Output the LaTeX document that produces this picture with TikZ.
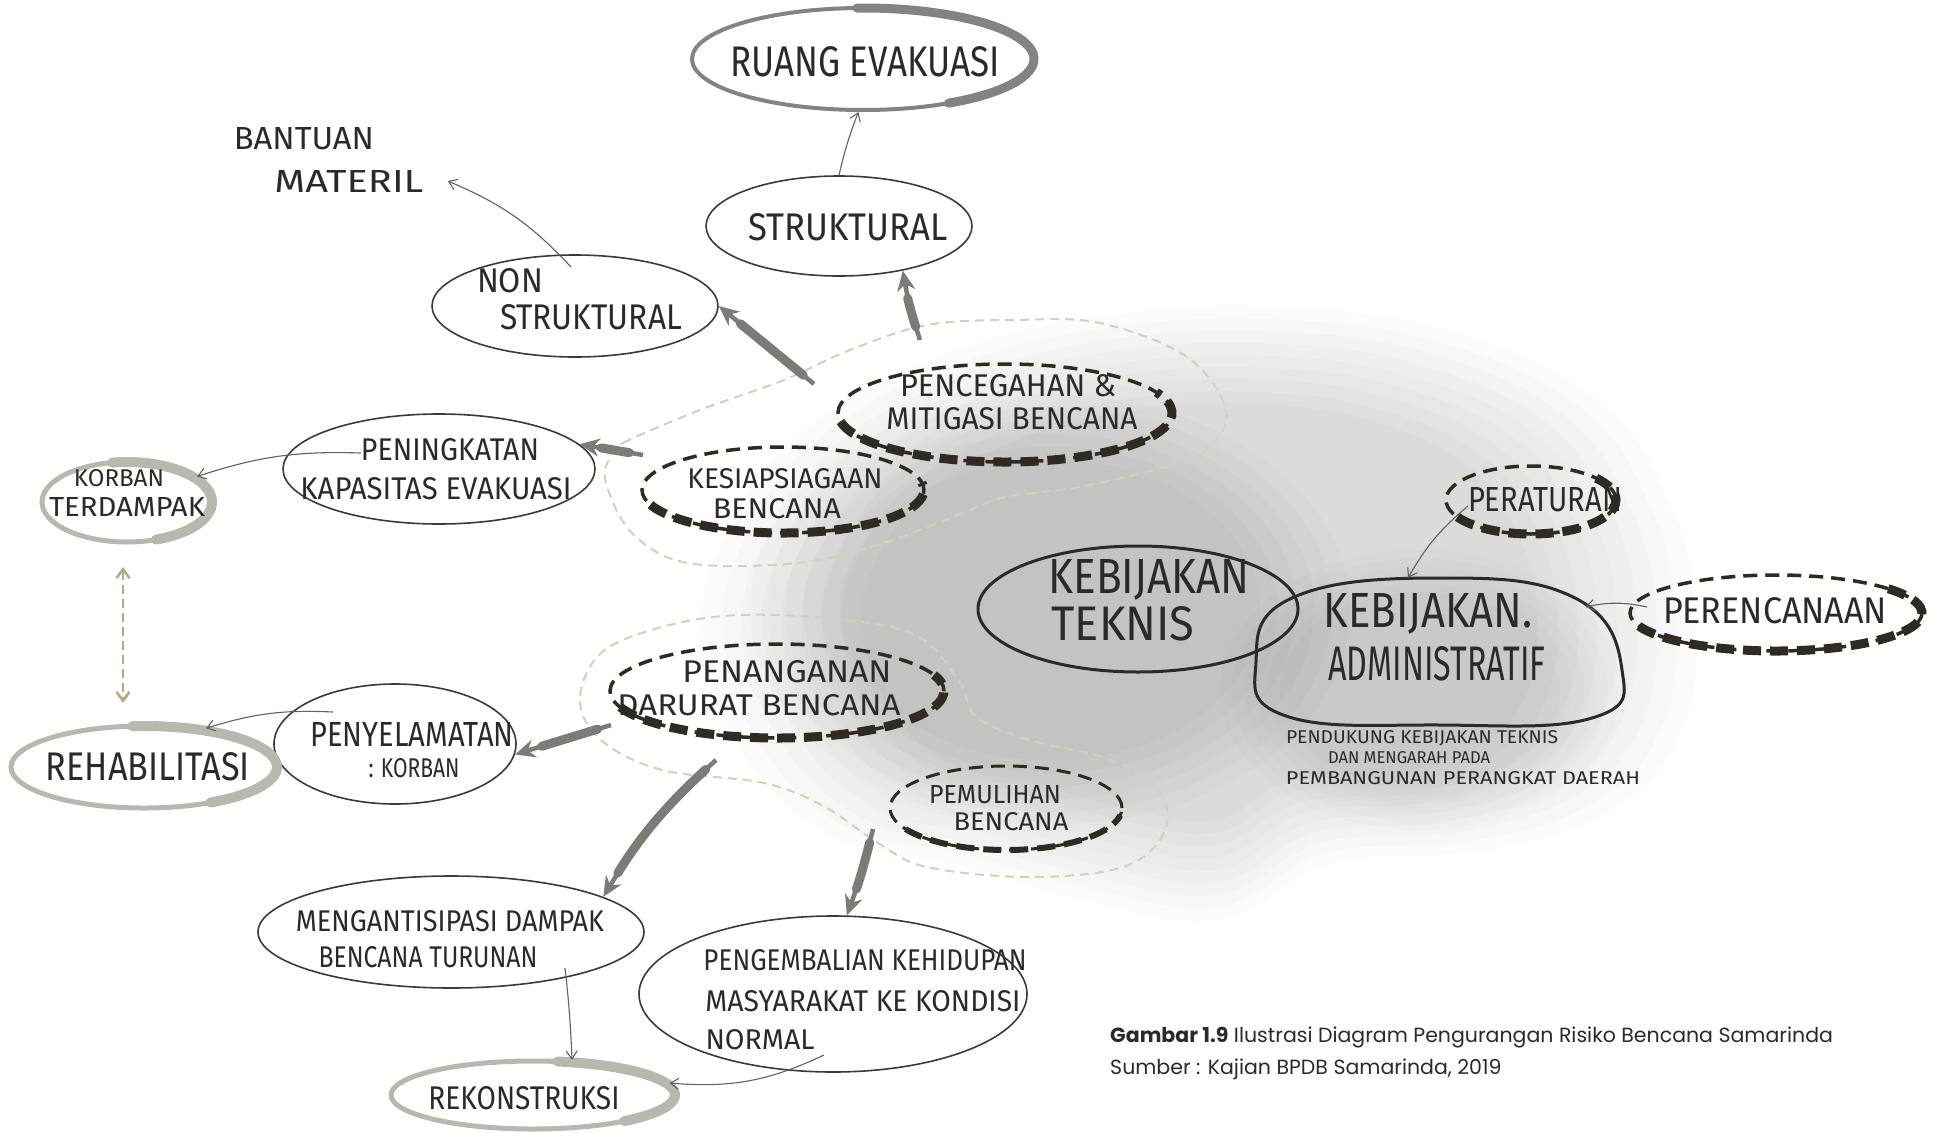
\documentclass[tikz,border=0pt]{standalone}
\usepackage{fontspec}
\usepackage{graphicx}
\usetikzlibrary{shapes.geometric,arrows.meta}
\newfontfamily\hand{Fira Sans}
\newfontfamily\capfont{Poppins}
\definecolor{ink}{HTML}{2A2A28}
\definecolor{thinline}{HTML}{3A3A38}
\definecolor{dashink}{HTML}{2E2B22}
\definecolor{ruangray}{HTML}{848381}
\definecolor{ltgray}{HTML}{B9B8AE}
\definecolor{arrgray}{HTML}{7B7B77}
\definecolor{olive}{HTML}{B3AB86}
\definecolor{blobline}{HTML}{D3D0C0}
\newcommand{\hw}[3]{\resizebox{#1pt}{#2pt}{\hand #3}}
\tikzset{
  hwt/.style={inner sep=0pt, text=ink},
  thinell/.style={ellipse, draw=thinline, line width=1.6pt, inner sep=0pt},
  kebell/.style={ellipse, draw=ink, line width=3pt, inner sep=0pt},
  dashell/.style={ellipse, draw=dashink, line width=3.5pt, dash pattern=on 14pt off 8pt, inner sep=0pt},
  grayell/.style={ellipse, draw=ltgray, line width=5pt, inner sep=0pt},
  dasharc/.style={draw=dashink, line width=9pt, dash pattern=on 18pt off 9pt},
  grayarc/.style={draw=ltgray, line width=10pt, line cap=round},
  thickarr/.style={draw=arrgray, line width=4.5pt, -{Stealth[length=20pt,width=18pt]}},
  taper/.style={draw=arrgray, line width=9pt, line cap=round, shorten <=14pt, shorten >=28pt},
  thinarr/.style={draw=thinline!80, line width=1.1pt, -{Straight Barb[length=8pt,width=11pt]}},
  blobdash/.style={draw=blobline, line width=2pt, dash pattern=on 9pt off 6pt},
}
\begin{document}
\begin{tikzpicture}[x=1pt,y=-1pt]
\useasboundingbox (0,0) rectangle (1934,1132);
\fill[white] (0,0) rectangle (1934,1132);

% ---------- grey wash background ----------
\foreach \s in {1,0.96,0.92,0.88,0.84,0.80,0.76,0.72,0.68}{
  \fill[black, opacity=0.014, shift={(1200,610)}, scale=\s]
    plot[smooth cycle, tension=0.7] coordinates {
      (-497,31) (-472,-80) (-398,-178) (-263,-252) (-90,-295) (95,-302)
      (255,-277) (391,-215) (465,-117) (496,7) (477,130) (403,204)
      (280,241) (132,253) (21,309) (-115,290) (-250,253) (-361,229) (-448,155)};
}
\foreach \s in {1,0.94,0.88,0.82,0.76,0.70}{
  \fill[black, opacity=0.014, shift={(1050,610)}, scale=\s] (0,0) ellipse [x radius=300, y radius=215];
  \fill[black, opacity=0.013, shift={(1420,690)}, scale=\s] (0,0) ellipse [x radius=200, y radius=140];
}

% ---------- dashed group outlines ----------
\draw[blobdash] plot[smooth cycle, tension=0.6] coordinates {
  (610,457) (623,443) (700,410) (784,380) (850,350) (927,325) (1014,320) (1100,323)
  (1187,357) (1226,410) (1209,447) (1165,467) (1079,487) (1005,497) (970,510)
  (884,543) (797,563) (688,563) (632,533) (606,483)};
\draw[blobdash] plot[smooth cycle, tension=0.6] coordinates {
  (740,615) (846,620) (919,637) (960,683) (976,717) (1029,740) (1111,760)
  (1160,793) (1164,833) (1123,867) (1029,877) (927,867) (878,843) (825,807)
  (764,783) (662,770) (601,740) (580,700) (601,653) (662,627)};

% ---------- ellipses ----------
\node[ellipse, draw=ruangray, line width=4pt, minimum width=342pt, minimum height=102pt, inner sep=0pt] (ruang) at (863,59) {};
\draw[draw=ruangray, line width=9pt, line cap=round] ([shift={(-92:171 and 51)}]863,59) arc[start angle=-92, end angle=60, x radius=171, y radius=51];
\node[thinell, minimum width=266pt, minimum height=100pt] (struk) at (839,226) {};
\node[thinell, minimum width=286pt, minimum height=102pt] (non) at (575,306) {};
\node[thinell, minimum width=312pt, minimum height=110pt] (ping) at (439,469) {};
\node[thinell, minimum width=242pt, minimum height=120pt] (nyel) at (395,744) {};
\node[thinell, minimum width=386pt, minimum height=112pt] (anti) at (451,932) {};
\node[thinell, minimum width=388pt, minimum height=156pt] (kemb) at (833,994) {};

\node[grayell, minimum width=170pt, minimum height=80pt] (korban) at (127,502) {};
\draw[grayarc] ([shift={(-100:85 and 40)}]127,502) arc[start angle=-100, end angle=70, x radius=85, y radius=40];
\node[grayell, minimum width=266pt, minimum height=82pt] (rehab) at (144,767) {};
\draw[grayarc] ([shift={(-95:133 and 41)}]144,767) arc[start angle=-95, end angle=60, x radius=133, y radius=41];
\node[grayell, minimum width=284pt, minimum height=68pt] (rekon) at (533,1095) {};
\draw[grayarc] ([shift={(-80:142 and 34)}]533,1095) arc[start angle=-80, end angle=50, x radius=142, y radius=34];

\node[dashell, minimum width=334pt, minimum height=98pt] (pen) at (1005,413) {};
\draw[dasharc] ([shift={(170:167 and 49)}]1005,413) arc[start angle=170, end angle=-25, x radius=167, y radius=49];
\node[dashell, minimum width=282pt, minimum height=86pt] (kes) at (783,490) {};
\draw[dasharc] ([shift={(160:141 and 43)}]783,490) arc[start angle=160, end angle=-10, x radius=141, y radius=43];
\node[dashell, minimum width=334pt, minimum height=94pt] (nang) at (777,691) {};
\draw[dasharc] ([shift={(160:167 and 47)}]777,691) arc[start angle=160, end angle=-20, x radius=167, y radius=47];
\node[dashell, line width=3pt, minimum width=232pt, minimum height=84pt] (mul) at (1006,808) {};
\draw[dasharc, line width=6pt] ([shift={(150:116 and 42)}]1006,808) arc[start angle=150, end angle=10, x radius=116, y radius=42];
\node[dashell, minimum width=170pt, minimum height=68pt] (per) at (1531,500) {};
\draw[dasharc] ([shift={(150:85 and 34)}]1531,500) arc[start angle=150, end angle=-40, x radius=85, y radius=34];
\node[dashell, minimum width=292pt, minimum height=76pt] (pere) at (1776,613) {};
\draw[dasharc] ([shift={(160:146 and 38)}]1776,613) arc[start angle=160, end angle=-40, x radius=146, y radius=38];

\node[kebell, minimum width=320pt, minimum height=126pt] (tek) at (1138,609) {};
\node[ellipse, minimum width=368pt, minimum height=150pt, inner sep=0pt] (adm) at (1438,652) {};
\draw[ink, line width=3pt] plot[smooth cycle, tension=0.75] coordinates {
  (1256,662) (1292,598) (1440,578) (1575,598) (1622,670) (1592,718) (1440,725) (1286,716)};

% ---------- texts ----------
\node[hwt] (truang) at (865,62) {\hw{269}{30}{RUANG EVAKUASI}};
\node[hwt] (tstruk) at (848,227) {\hw{199}{27}{STRUKTURAL}};
\node[hwt] (bantuan) at (304,139) {\hw{140}{22}{BANTUAN}};
\node[hwt] (materil) at (349,181) {\hw{149}{22}{MATERIL}};
\node[hwt] (tnon) at (510,281) {\hw{66}{24}{NON}};
\node[hwt] (tnon2) at (591,317) {\hw{182}{25}{STRUKTURAL}};
\node[hwt] (tpen1) at (1008,386) {\hw{216}{22}{PENCEGAHAN \&}};
\node[hwt] (tpen2) at (1012,419) {\hw{251}{22}{MITIGASI BENCANA}};
\node[hwt] (tkes1) at (785,479) {\hw{195}{20}{KESIAPSIAGAAN}};
\node[hwt] (tkes2) at (777,509) {\hw{128}{20}{BENCANA}};
\node[hwt] (tping1) at (450,450) {\hw{178}{22}{PENINGKATAN}};
\node[hwt] (tping2) at (436,489) {\hw{271}{22}{KAPASITAS EVAKUASI}};
\node[hwt] (tkor1) at (119,478) {\hw{90}{17}{KORBAN}};
\node[hwt] (tkor2) at (127,507) {\hw{156}{19}{TERDAMPAK}};
\node[hwt] (trehab) at (148,767) {\hw{204}{28}{REHABILITASI}};
\node[hwt] (tnyel1) at (412,734) {\hw{203}{24}{PENYELAMATAN}};
\node[hwt] (tnyel2) at (414,768) {\hw{91}{19}{: KORBAN}};
\node[hwt] (tnang1) at (787,672) {\hw{209}{22}{PENANGANAN}};
\node[hwt] (tnang2) at (759,705) {\hw{283}{21}{DARURAT BENCANA}};
\node[hwt] (tmul1) at (995,795) {\hw{132}{18}{PEMULIHAN}};
\node[hwt] (tmul2) at (1011,822) {\hw{115}{18}{BENCANA}};
\node[hwt] (tanti1) at (450,921) {\hw{308}{21}{MENGANTISIPASI DAMPAK}};
\node[hwt] (tanti2) at (428,957) {\hw{219}{21}{BENCANA TURUNAN}};
\node[hwt] (tkemb1) at (865,960) {\hw{323}{21}{PENGEMBALIAN KEHIDUPAN}};
\node[hwt] (tkemb2) at (863,1001) {\hw{315}{21}{MASYARAKAT KE KONDISI}};
\node[hwt] (tkemb3) at (760,1040) {\hw{109}{20}{NORMAL}};
\node[hwt] (trekon) at (524,1098) {\hw{191}{23}{REKONSTRUKSI}};
\node[hwt] (ttek1) at (1149,580) {\hw{201}{34}{KEBIJAKAN}};
\node[hwt] (ttek2) at (1123,624) {\hw{143}{34}{TEKNIS}};
\node[hwt] (tadm1) at (1428,614) {\hw{209}{34}{KEBIJAKAN.}};
\node[hwt] (tadm2) at (1437,664) {\hw{217}{34}{ADMINISTRATIF}};
\node[hwt] (tper) at (1545,500) {\hw{154}{24}{PERATURAN}};
\node[hwt] (tpere) at (1775,611) {\hw{224}{26}{PERENCANAAN}};
\node[hwt] (tnote1) at (1422,738) {\hw{272}{13}{PENDUKUNG KEBIJAKAN TEKNIS}};
\node[hwt] (tnote2) at (1409,758) {\hw{162}{12}{DAN MENGARAH PADA}};
\node[hwt] (tnote3) at (1463,778) {\hw{354}{13}{PEMBANGUNAN PERANGKAT DAERAH}};

% ---------- caption ----------
\node[anchor=base west, inner sep=0pt, text=ink, font=\capfont\fontsize{20.5}{24}\selectfont] (cap1) at (1110,1042)
  {\textbf{Gambar 1.9} Ilustrasi Diagram Pengurangan Risiko Bencana Samarinda};
\node[anchor=base west, inner sep=0pt, text=ink, font=\capfont\fontsize{20.5}{24}\selectfont] (cap2) at (1110,1074)
  {Sumber : Kajian BPDB Samarinda, 2019};

% ---------- thick arrows ----------
\coordinate (a1) at (814,384);
\coordinate (a2) at (920,340);
\coordinate (a3) at (643,455);
\coordinate (a4) at (611,725);
\coordinate (a5) at (716,760);
\coordinate (a6) at (873,829);
\draw[taper] (a1) -- (non.east);
\draw[thickarr] (a1) -- (non.east);
\draw[taper] (a2) to[bend left=4] (struk.-35);
\draw[thickarr] (a2) to[bend left=4] (struk.-35);
\draw[taper, shorten >=22pt] (a3) -- (ping.10);
\draw[thickarr] (a3) -- (ping.10);
\draw[taper] (a4) -- (nyel.-5);
\draw[thickarr] (a4) -- (nyel.-5);
\draw[taper] (a5) to[bend right=8] (anti.13);
\draw[thickarr] (a5) to[bend right=8] (anti.13);
\draw[taper] (a6) to[bend left=3] (kemb.80);
\draw[thickarr] (a6) to[bend left=3] (kemb.80);

% ---------- thin arrows ----------
\coordinate (b1) at (571,267);
\coordinate (b2) at (361,453);
\coordinate (b3) at (333,712);
\coordinate (b4) at (565,968);
\coordinate (b5) at (824,1055);
\coordinate (b6) at (1468,506);
\coordinate (b7) at (1647,607);
\draw[thinarr] (struk.north) to[bend left=4] (ruang.-95);
\draw[thinarr] (b1) to[bend right=12] ([xshift=24pt]materil.east);
\draw[thinarr] (b2) to[bend right=10] (korban.20);
\draw[thinarr] (b3) to[bend right=10] (rehab.32);
\draw[thinarr] (b4) to[bend left=2] (rekon.42);
\draw[thinarr] (b5) to[bend left=15] (rekon.5);
\draw[thinarr] (b6) to[bend right=10] (adm.112);
\draw[thinarr] (b7) to[bend right=12] (adm.17);

% ---------- double dashed arrow ----------
\coordinate (d1) at (123,567);
\coordinate (d2) at (123,703);
\draw[draw=olive, line width=2.6pt, dash pattern=on 9pt off 5pt, {Straight Barb[length=9pt,width=13pt]}-{Straight Barb[length=9pt,width=13pt]}] (d1) -- (d2);
\end{tikzpicture}
\end{document}
